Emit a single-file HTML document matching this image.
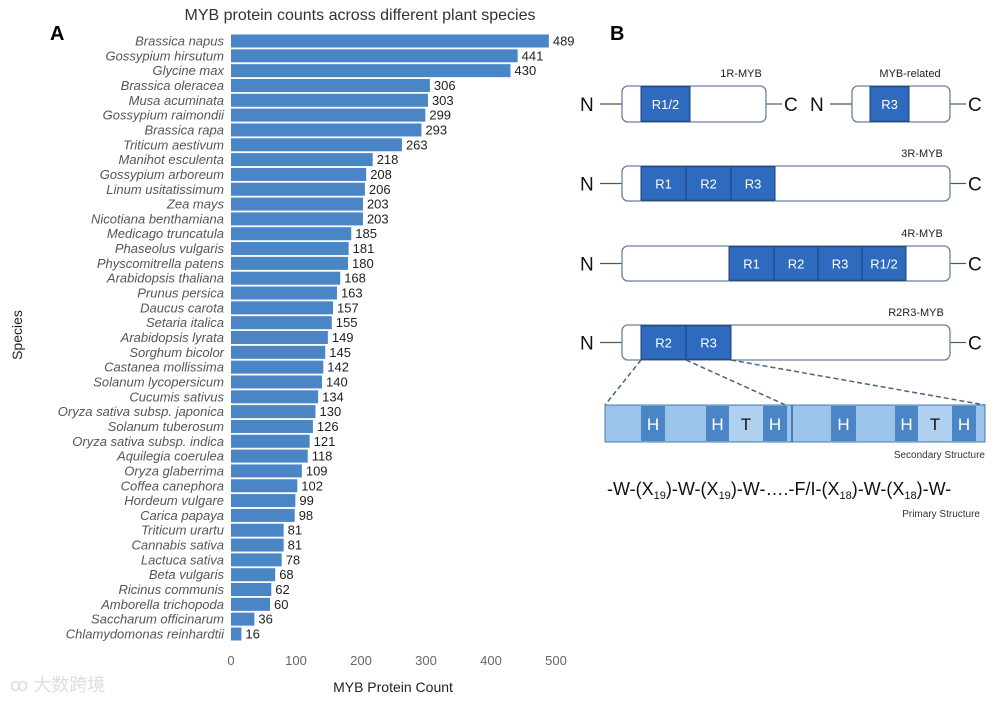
<!DOCTYPE html>
<html><head><meta charset="utf-8"><style>
body{margin:0;background:#fff;}
svg{display:block;font-family:"Liberation Sans","Noto Sans CJK SC",sans-serif;}
</style></head><body>
<svg id="fig" width="1000" height="701" viewBox="0 0 1000 701">
<text x="360" y="20" font-size="16" fill="#333" text-anchor="middle">MYB protein counts across different plant species</text>
<text x="50" y="40" font-size="20" font-weight="bold">A</text>
<text x="610" y="40" font-size="20" font-weight="bold">B</text>
<text transform="translate(22,335) rotate(-90)" font-size="14" fill="#222" text-anchor="middle">Species</text>
<text x="393" y="692" font-size="14" fill="#222" text-anchor="middle">MYB Protein Count</text>
<text x="10" y="691" font-size="18" fill="#ddd">ꝏ 大数跨境</text>
<g id="bars"></g>
<g id="xticks"></g>
<g id="panelb"></g>
</svg>
<script>
const species=["Brassica napus","Gossypium hirsutum","Glycine max","Brassica oleracea","Musa acuminata","Gossypium raimondii","Brassica rapa","Triticum aestivum","Manihot esculenta","Gossypium arboreum","Linum usitatissimum","Zea mays","Nicotiana benthamiana","Medicago truncatula","Phaseolus vulgaris","Physcomitrella patens","Arabidopsis thaliana","Prunus persica","Daucus carota","Setaria italica","Arabidopsis lyrata","Sorghum bicolor","Castanea mollissima","Solanum lycopersicum","Cucumis sativus","Oryza sativa subsp. japonica","Solanum tuberosum","Oryza sativa subsp. indica","Aquilegia coerulea","Oryza glaberrima","Coffea canephora","Hordeum vulgare","Carica papaya","Triticum urartu","Cannabis sativa","Lactuca sativa","Beta vulgaris","Ricinus communis","Amborella trichopoda","Saccharum officinarum","Chlamydomonas reinhardtii"];
const counts=[489,441,430,306,303,299,293,263,218,208,206,203,203,185,181,180,168,163,157,155,149,145,142,140,134,130,126,121,118,109,102,99,98,81,81,78,68,62,60,36,16];
const xTicks=[0,100,200,300,400,500];
const NS="http://www.w3.org/2000/svg";
const x=v=>231+v*0.65;
const y0=41,y1=634;
const step=(y1-y0)/(species.length-1);
const y=i=>y0+i*step;
const gb=document.getElementById('bars');
function mk(tag,attrs,parent,txt){const e=document.createElementNS(NS,tag);for(const k in attrs)e.setAttribute(k,attrs[k]);if(txt!==undefined)e.textContent=txt;parent.appendChild(e);return e;}
species.forEach((s,i)=>{
 const r=mk('rect',{x:x(0),y:y(i)-6.5,width:x(counts[i])-x(0),height:13,fill:'#4a86c5'},gb);
 
 
 const l=mk('text',{x:224,y:y(i)+4.5,'font-size':13,'font-style':'italic',fill:'#555','text-anchor':'end'},gb,s);
 
 
 const v=mk('text',{x:x(counts[i])+4,y:y(i)+4.5,'font-size':13,fill:'#222'},gb,counts[i]);
 
 
});
const gx=document.getElementById('xticks');
xTicks.forEach(t=>{
 const e=mk('text',{x:x(t),y:665,'font-size':13,fill:'#666','text-anchor':'middle'},gx,t);
 
 
});
// Panel B
const pb=document.getElementById('panelb');
const dk='#2e6bbf';
function protein(name,bx,bw,by,bh,domains,label,lx){
 const g=mk('g',{},pb);
 
 
 const cy=by+bh/2;
 mk('text',{x:bx-42,y:cy+7,'font-size':19,fill:'#111'},g,'N');
 mk('line',{x1:bx-22,y1:cy,x2:bx,y2:cy,stroke:'#555','stroke-width':1.2},g);
 mk('line',{x1:bx+bw,y1:cy,x2:bx+bw+16,y2:cy,stroke:'#555','stroke-width':1.2},g);
 mk('text',{x:bx+bw+18,y:cy+7,'font-size':19,fill:'#111'},g,'C');
 mk('rect',{x:bx,y:by,width:bw,height:bh,rx:6,fill:'#fff',stroke:'#6a7fa0','stroke-width':1.3},g);
 domains.forEach(d=>{
  mk('rect',{x:d[0],y:by+0.7,width:d[1]-d[0],height:bh-1.4,fill:dk,stroke:'#1b3f73','stroke-width':1},g);
  mk('text',{x:(d[0]+d[1])/2,y:cy+5,'font-size':13,fill:'#fff','text-anchor':'middle'},g,d[2]);
 });
 mk('text',{x:lx,y:by-9,'font-size':11,fill:'#222','text-anchor':'middle'},g,label);
}
protein('1r-myb',622,144,86,36,[[641,690,'R1/2']],'1R-MYB',741);
protein('myb-related',852,98,86,36,[[870,909,'R3']],'MYB-related',910);
protein('3r-myb',622,328,166,35,[[641,686,'R1'],[686,731,'R2'],[731,775,'R3']],'3R-MYB',922);
protein('4r-myb',622,328,246,35,[[729,774,'R1'],[774,818,'R2'],[818,862,'R3'],[862,906,'R1/2']],'4R-MYB',922);
protein('r2r3-myb',622,328,325,35,[[641,686,'R2'],[686,731,'R3']],'R2R3-MYB',916);
// dashed connectors
[[641,360,605,405],[686,360,790,407],[731,360,985,405]].forEach(l=>mk('line',{x1:l[0],y1:l[1],x2:l[2],y2:l[3],stroke:'#4a6485','stroke-width':1.5,'stroke-dasharray':'5,3'},pb));
const ss=mk('g',{},pb);


mk('rect',{x:605,y:405,width:380,height:37,fill:'#9cc3ea',stroke:'#4b7bb0','stroke-width':1},ss);
[[641,665,'H','#4a86c5','#fff'],[706,729,'H','#4a86c5','#fff'],[729,763,'T','#b0d0f0','#111'],[763,787,'H','#4a86c5','#fff'],[831,856,'H','#4a86c5','#fff'],[895,918,'H','#4a86c5','#fff'],[918,952,'T','#b0d0f0','#111'],[952,976,'H','#4a86c5','#fff']].forEach(d=>{
 mk('rect',{x:d[0],y:406,width:d[1]-d[0],height:35,fill:d[3]},ss);
 mk('text',{x:(d[0]+d[1])/2,y:430,'font-size':17,fill:d[4],'text-anchor':'middle'},ss,d[2]);
});
mk('line',{x1:792,y1:405,x2:792,y2:442,stroke:'#4b7bb0','stroke-width':2},ss);
mk('text',{x:985,y:458,'font-size':10,fill:'#333','text-anchor':'end'},pb,'Secondary Structure');
const ps=mk('text',{x:607,y:495,'font-size':18,fill:'#111'},pb);


ps.innerHTML='-W-(X<tspan font-size="11" dy="4">19</tspan><tspan dy="-4">)-W-(X</tspan><tspan font-size="11" dy="4">19</tspan><tspan dy="-4">)-W-….-F/I-(X</tspan><tspan font-size="11" dy="4">18</tspan><tspan dy="-4">)-W-(X</tspan><tspan font-size="11" dy="4">18</tspan><tspan dy="-4">)-W-</tspan>';
mk('text',{x:980,y:517,'font-size':10,fill:'#333','text-anchor':'end'},pb,'Primary Structure');
</script>
</body></html>
